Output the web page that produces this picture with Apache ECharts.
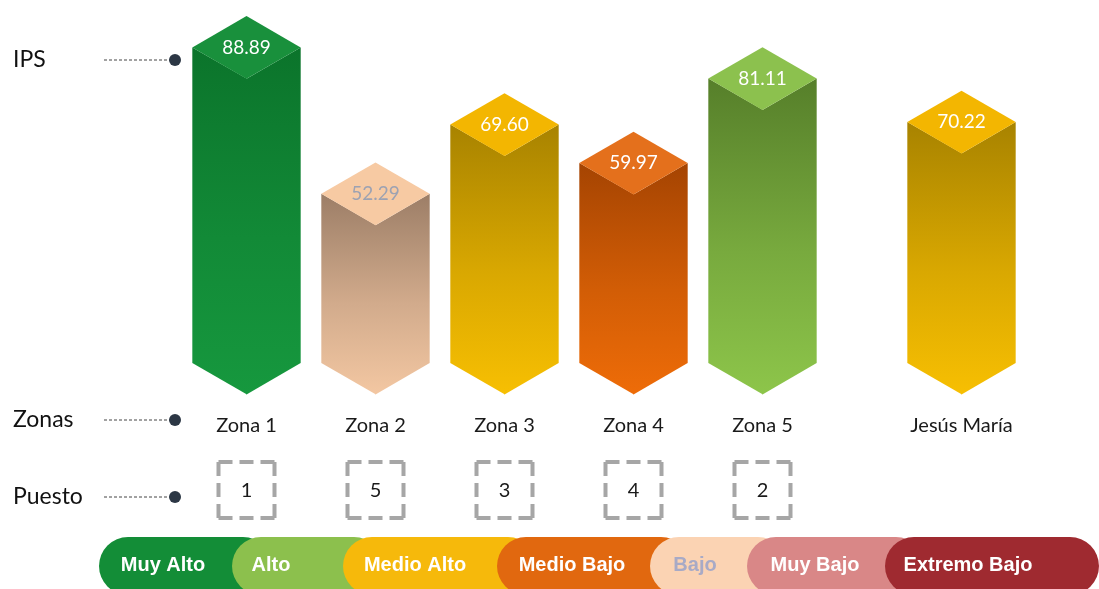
<!DOCTYPE html>
<html>
<head>
<meta charset="utf-8">
<script src="https://cdn.jsdelivr.net/npm/echarts@6/dist/echarts.min.js"></script>
<style>
  html, body { margin: 0; padding: 0; background: #ffffff; }
  #chart { width: 1099px; height: 589px; }
</style>
</head>
<body>
<div id="chart"></div>
<script>
// ---- data ----
const zones = ['Zona 1', 'Zona 2', 'Zona 3', 'Zona 4', 'Zona 5'];
const zoneIps = [88.89, 52.29, 69.60, 59.97, 81.11];
const zoneRank = [1, 5, 3, 4, 2];
const zoneLevel = ['Muy Alto', 'Bajo', 'Medio Alto', 'Medio Bajo', 'Alto'];

const district = ['Jesús María'];
const districtIps = [70.22];
const districtLevel = ['Medio Alto'];

const levels = ['Muy Alto', 'Alto', 'Medio Alto', 'Medio Bajo', 'Bajo', 'Muy Bajo', 'Extremo Bajo'];
const rowLabels = ['IPS', 'Zonas', 'Puesto'];

// ---- styles ----
const levelColors = ['#138d37', '#8cc04d', '#f6b90b', '#e1680f', '#fbd3b3', '#d98787', '#9f2a30'];
const levelTextColors = ['#ffffff', '#ffffff', '#ffffff', '#ffffff', '#a8aac6', '#ffffff', '#ffffff'];

// prism shading per level: top face, face gradient (top -> bottom), label colour
const prismShade = {
  'Muy Alto':   { top: '#19903c', dark: '#0b742b', light: '#16983e', text: '#ffffff' },
  'Alto':       { top: '#8cc14e', dark: '#567f2a', light: '#8dc54a', text: '#ffffff' },
  'Medio Alto': { top: '#f3b601', dark: '#a88300', light: '#f7bf02', text: '#ffffff' },
  'Medio Bajo': { top: '#e4701c', dark: '#a54402', light: '#ee6c08', text: '#ffffff' },
  'Bajo':       { top: '#f7caa3', dark: '#9c7e67', light: '#f3c7a2', text: '#9da2b2' },
  'Muy Bajo':   { top: '#dc8d8d', dark: '#9a5555', light: '#da8989', text: '#ffffff' },
  'Extremo Bajo': { top: '#a83036', dark: '#6a161a', light: '#a2292f', text: '#ffffff' }
};

const AXIS_MIN = 10;
const AXIS_MAX = 100;
const FONT = 'Lato, "Open Sans", sans-serif';

// Hexagonal prism column: diamond top face, two front faces, pointed base.
function makePrism(levelList, rankList) {
  return function (params, api) {
    const idx = api.value(0);
    const val = api.value(1);
    const top = api.coord([idx, val]);
    const base = api.coord([idx, AXIS_MIN]);
    const hw = api.size([1, 0])[0] * 0.42;
    const dy = hw * 0.58;
    const cx = top[0], ty = top[1], by = base[1];
    const s = prismShade[levelList[params.dataIndex]];
    const faceFill = () => new echarts.graphic.LinearGradient(0, 0, 0, 1, [
      { offset: 0, color: s.dark },
      { offset: 0.55, color: echarts.color.lerp(0.62, [s.dark, s.light]) },
      { offset: 1, color: s.light }
    ]);
    const children = [
      {
        type: 'polygon',
        shape: { points: [[cx - hw, ty], [cx + 0.5, ty + dy], [cx + 0.5, by + dy], [cx - hw, by]] },
        style: { fill: faceFill() }
      },
      {
        type: 'polygon',
        shape: { points: [[cx, ty + dy], [cx + hw, ty], [cx + hw, by], [cx, by + dy]] },
        style: { fill: faceFill() }
      },
      {
        type: 'polygon',
        shape: { points: [[cx, ty - dy], [cx + hw, ty], [cx, ty + dy], [cx - hw, ty]] },
        style: { fill: s.top }
      },
      {
        type: 'text',
        style: {
          x: cx, y: ty, text: api.value(1).toFixed(2),
          fill: s.text, font: '19px ' + FONT,
          align: 'center', verticalAlign: 'middle'
        }
      }
    ];
    if (rankList) {
      const boxY = by + 127;
      children.push({
        type: 'rect',
        shape: { x: cx - 28, y: boxY - 28, width: 56, height: 56 },
        style: { fill: 'none', stroke: '#a6a6a6', lineWidth: 4, lineDash: [14, 7, 14, 7, 14, 0] }
      });
      children.push({
        type: 'text',
        style: {
          x: cx, y: boxY + 1, text: String(rankList[params.dataIndex]),
          fill: '#1a1a1a', font: '20px ' + FONT,
          align: 'center', verticalAlign: 'middle'
        }
      });
    }
    return { type: 'group', children: children };
  };
}

// ---- side row labels and level legend ----
const rowY = [60, 420, 497];
const graphics = [];
rowLabels.forEach((t, i) => {
  graphics.push({
    type: 'text',
    style: { x: 13, y: rowY[i], text: t, fill: '#111111', font: '23px ' + FONT, verticalAlign: 'middle' }
  });
  graphics.push({
    type: 'line',
    shape: { x1: 104, y1: rowY[i], x2: 170, y2: rowY[i] },
    style: { stroke: '#444444', lineWidth: 1, lineDash: [3, 2] }
  });
  graphics.push({
    type: 'circle',
    shape: { cx: 175, cy: rowY[i], r: 6 },
    style: { fill: '#2c3745' }
  });
});

const pillLeft = [99, 232, 343, 497, 650, 747, 885];
const pillTextX = [163, 271, 415, 572, 695, 815, 968];
levels.forEach((name, i) => {
  const right = i < levels.length - 1 ? pillLeft[i + 1] + 40 : 1099;
  graphics.push({
    type: 'rect', z: 10 + i * 2,
    shape: { x: pillLeft[i], y: 537, width: right - pillLeft[i], height: 58, r: 29 },
    style: { fill: levelColors[i] }
  });
  graphics.push({
    type: 'text', z: 11 + i * 2,
    style: {
      x: pillTextX[i], y: 565, text: name,
      fill: levelTextColors[i],
      font: 'bold 20px "Liberation Sans", Arial, sans-serif',
      align: 'center', verticalAlign: 'middle'
    }
  });
});

const chart = echarts.init(document.getElementById('chart'));
const hiddenY = (gi) => ({
  type: 'value', gridIndex: gi, min: AXIS_MIN, max: AXIS_MAX,
  show: false, splitLine: { show: false }
});
const catX = (gi, cats) => ({
  type: 'category', gridIndex: gi, data: cats,
  axisLine: { show: false }, axisTick: { show: false }, splitLine: { show: false },
  axisLabel: { color: '#1a1a1a', fontSize: 20, fontFamily: FONT, margin: 53 }
});

chart.setOption({
  backgroundColor: '#ffffff',
  animation: false,
  grid: [
    { left: 182, width: 645, top: 3, height: 360 },
    { left: 897, width: 129, top: 3, height: 360 }
  ],
  xAxis: [catX(0, zones), catX(1, district)],
  yAxis: [hiddenY(0), hiddenY(1)],
  graphic: graphics,
  series: [
    {
      type: 'custom', xAxisIndex: 0, yAxisIndex: 0,
      renderItem: makePrism(zoneLevel, zoneRank),
      data: zoneIps.map((v, i) => [i, v])
    },
    {
      type: 'custom', xAxisIndex: 1, yAxisIndex: 1,
      renderItem: makePrism(districtLevel, null),
      data: districtIps.map((v, i) => [i, v])
    }
  ]
});
</script>
</body>
</html>
